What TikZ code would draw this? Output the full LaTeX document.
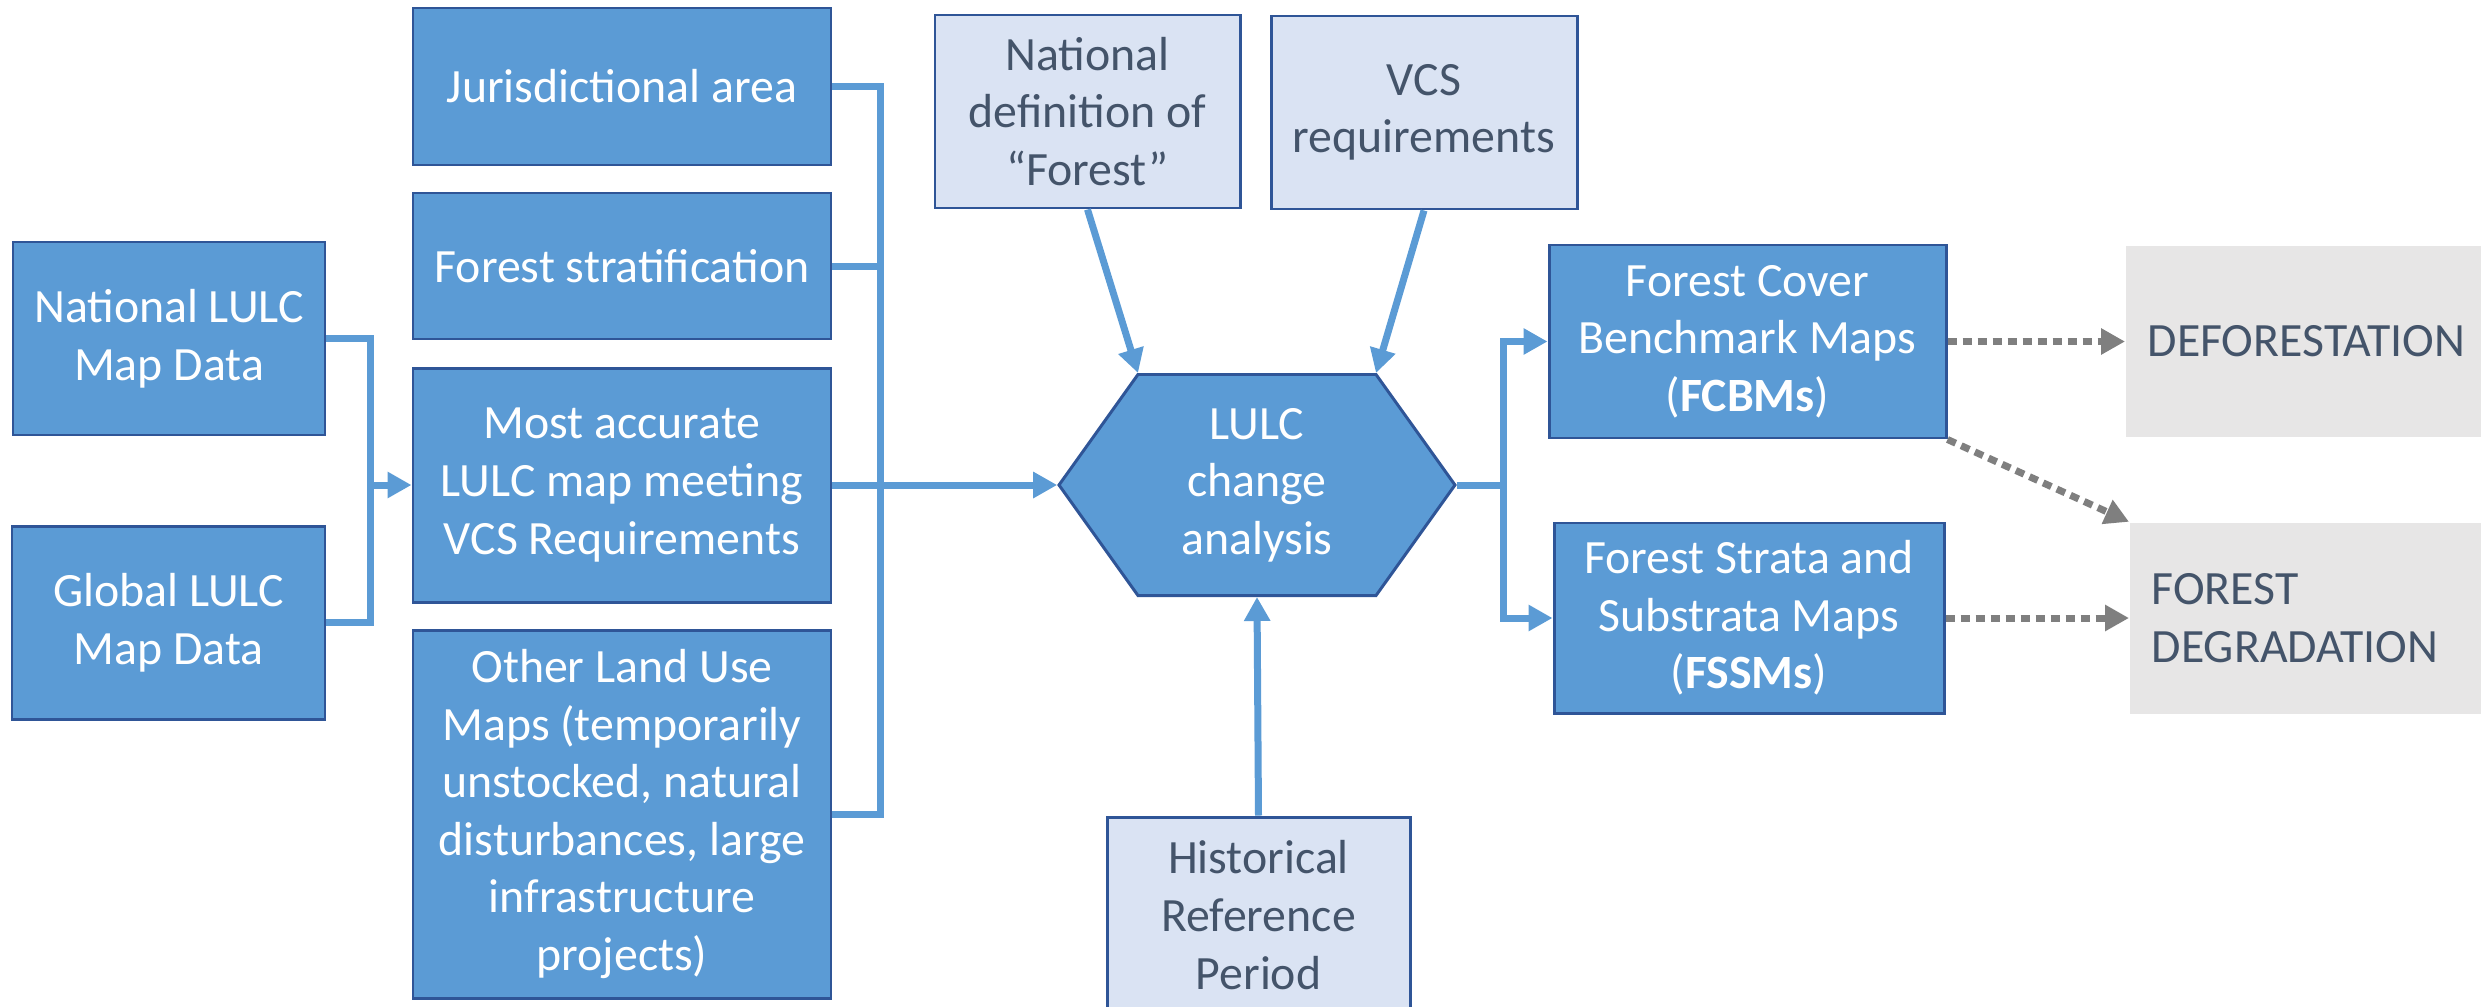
\documentclass[tikz,border=0pt]{standalone}
\usepackage{fontspec}
\setmainfont{Carlito}
\usetikzlibrary{arrows.meta,shapes.symbols}
\definecolor{boxblue}{HTML}{5B9BD5}
\definecolor{boxline}{HTML}{2F5597}
\definecolor{palefill}{HTML}{DAE3F3}
\definecolor{slate}{HTML}{44546A}
\definecolor{greyfill}{HTML}{E7E6E6}
\definecolor{greyline}{HTML}{7F7F7F}

\begin{document}
\begin{tikzpicture}[
    >={Triangle[length=2.4mm,width=2.5mm]},
    every node/.style={font=\fontsize{13.6}{16.4}\selectfont, align=center},
    darkbox/.style={shape=rectangle, draw=boxline, line width=0.85pt, fill=boxblue, text=white, inner sep=0pt},
    palebox/.style={shape=rectangle, draw=boxline, line width=0.85pt, fill=palefill, text=slate, inner sep=0pt},
    greybox/.style={shape=rectangle, fill=greyfill, text=slate, align=left, text width=3.2cm, inner xsep=0.22cm, anchor=west, minimum height=1.91cm},
    link/.style={color=boxblue, line width=0.7mm},
    hint/.style={color=greyline, line width=0.7mm, dash pattern=on 0.9mm off 0.6mm},
]
    \useasboundingbox (0,0) rectangle (24.81,-10.07);
    % map sources
    \node[darkbox, minimum width=3.12cm, minimum height=1.93cm] (NM) at (1.69,-3.385) {National LULC\\Map Data};
    \node[darkbox, minimum width=3.13cm, minimum height=1.93cm] (GM) at (1.685,-6.225) {Global LULC\\Map Data};
    % middle column
    \node[darkbox, minimum width=4.18cm, minimum height=1.57cm] (JA) at (6.22,-0.865) {Jurisdictional area};
    \node[darkbox, minimum width=4.18cm, minimum height=1.46cm] (FS) at (6.22,-2.66) {Forest stratification};
    \node[darkbox, minimum width=4.18cm, minimum height=2.34cm] (MA) at (6.22,-4.85) {Most accurate\\LULC map meeting\\VCS Requirements};
    \node[darkbox, minimum width=4.18cm, minimum height=3.68cm] (OL) at (6.22,-8.14) {Other Land Use\\Maps (temporarily\\unstocked, natural\\disturbances, large\\infrastructure\\projects)};
    % analysis and its inputs
    \node[palebox, minimum width=3.05cm, minimum height=1.93cm] (ND) at (10.875,-1.115) {National\\definition of\\“Forest”};
    \node[palebox, minimum width=3.06cm, minimum height=1.93cm] (VR) at (14.24,-1.125) {VCS\\requirements};
    \node[darkbox, shape=signal, signal to=west and east, signal pointer angle=108.9, minimum width=3.96cm, minimum height=2.21cm] (CA) at (12.57,-4.85) {LULC\\change\\analysis};
    \node[palebox, minimum width=3.03cm, minimum height=1.96cm] (HR) at (12.585,-9.15) {Historical\\Reference\\Period};
    % outputs
    \node[darkbox, minimum width=3.97cm, minimum height=1.93cm] (FC) at (17.475,-3.415) {Forest Cover\\Benchmark Maps\\(\textbf{FCBMs})};
    \node[darkbox, minimum width=3.90cm, minimum height=1.90cm] (SM) at (17.49,-6.18) {Forest Strata and\\Substrata Maps\\(\textbf{FSSMs})};
    \node[greybox] (DF) at (21.25,-3.415) {DEFORESTATION};
    \node[greybox] (DG) at (21.29,-6.18) {FOREST\\DEGRADATION};

    \coordinate (LB) at (3.70,-4.85);
    \coordinate (MB) at (8.80,-4.85);
    \coordinate (RB) at (15.03,-4.85);

    \draw[link] (NM.east) -| (LB) |- (GM.east);
    \draw[link,->] (LB) -- (MA.west);
    \draw[link] (JA.east) -| (MB) |- (OL.east);
    \draw[link] (FS.east) -- (FS.east -| MB);
    \draw[link,->] (MA.east) -- (CA.west);
    \path[link,->] (ND.south) edge ([xshift=-1.19cm]CA.north)
                   (VR.south) edge ([xshift=1.19cm]CA.north)
                   (HR.north) edge (CA.south);
    \draw[link] (CA.east) -- (RB);
    \draw[link,->] (RB) |- (FC.west);
    \draw[link,->] (RB) |- (SM.west);
    \path[hint,->] (FC.east) edge (DF.west)
                   (FC.south east) edge (DG.north west)
                   (SM.east) edge (DG.west);
\end{tikzpicture}
\end{document}
